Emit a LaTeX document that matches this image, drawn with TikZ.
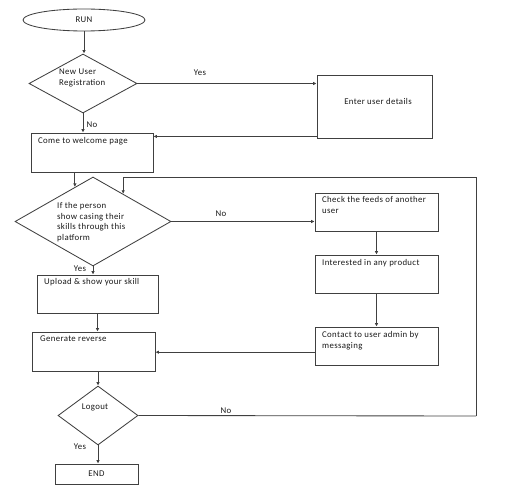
\documentclass[tikz,border=0pt]{standalone}
\usepackage{fontspec}
\setmainfont[LetterSpace=4]{Carlito}
\usetikzlibrary{shapes.geometric,arrows.meta,calc}
\begin{document}
\begin{tikzpicture}[x=1pt,y=-1pt,
  every node/.style={font=\fontsize{8.8}{10.7}\selectfont, text=black!90},
  ln/.style={draw=black!75, line width=0.85pt},
  arr/.style={ln, -{Latex[length=3.5pt,width=3.5pt]}},
  box/.style={ln, rectangle, inner sep=0pt},
  dia/.style={ln, diamond, inner sep=0pt},
  txt/.style={anchor=north west, align=left, inner sep=0pt},
  lbl/.style={inner sep=0pt}]
\useasboundingbox (0,0) rectangle (519,494);
% shapes
\node[ln, ellipse, minimum width=122pt, minimum height=22pt, inner sep=0pt] (run) at (84,20) {RUN};
\node[dia, minimum width=108pt, minimum height=59pt] (d1) at (83,83.5) {};
\node[box, minimum width=115pt, minimum height=63pt] (enter) at (374.5,106.5) {};
\node[lbl] (t0) at (378,101) {Enter user details};
\node[box, minimum width=122pt, minimum height=39pt] (welcome) at (92,152.5) {};
\node[dia, minimum width=156pt, minimum height=89pt] (d2) at (93,221.5) {};
\node[box, minimum width=123pt, minimum height=38pt] (feeds) at (376.5,212) {};
\node[box, minimum width=123pt, minimum height=38pt] (interest) at (376.5,274) {};
\node[box, minimum width=123pt, minimum height=38pt] (contact) at (376.5,346) {};
\node[box, minimum width=121pt, minimum height=38pt] (upload) at (97.5,294) {};
\node[box, minimum width=123pt, minimum height=39pt] (generate) at (93.5,351.5) {};
\node[dia, minimum width=80pt, minimum height=59pt] (d3) at (98,415.5) {};
\node[box, minimum width=83pt, minimum height=20pt] (endn) at (96.5,474) {END};
% texts
\node[txt] (t1) at (59,69) {New User\\Registration};
\node[txt] (t2) at (38,137) {Come to welcome page};
\node[txt] (t3) at (57,202) {If the person\\show casing their\\skills through this\\platform};
\node[txt] (t4) at (322,196) {Check the feeds of another\\user};
\node[txt] (t5) at (322,259) {Interested in any product};
\node[txt] (t6) at (322,331) {Contact to user admin by\\messaging};
\node[txt] (t7) at (44,278) {Upload \& show your skill};
\node[txt] (t8) at (40,336) {Generate reverse};
\node[lbl] (t9) at (95,407) {Logout};
% labels
\node[lbl] (l1) at (200,73) {Yes};
\node[lbl] (l2) at (92,125) {No};
\node[lbl] (l3) at (221,214) {No};
\node[lbl] (l4) at (80,269) {Yes};
\node[lbl] (l5) at (226,411) {No};
\node[lbl] (l6) at (80,447) {Yes};
% coordinates
\coordinate (w1) at ($(d2.north)!0.2308!(d2.west)$);
\coordinate (w0) at (w1 |- welcome.south);
\coordinate (e1) at ($(d2.north)!0.3846!(d2.east)$);
\coordinate (c1) at (476,416);
\coordinate (c2) at (476,177);
\coordinate (c3) at (e1 |- c2);
\coordinate (en1) at ($(enter.south west)+(0,-2)$);
\coordinate (ct1) at ($(contact.north west)!0.66!(contact.south west)$);
% connectors
\draw[arr] (run.south) -- (run.south |- d1.north);
\draw[arr] (d1.east) -- (d1.east -| enter.west);
\draw[arr] (en1) -- (en1 -| welcome.east);
\draw[arr] (d1.south) -- (d1.south |- welcome.north);
\draw[arr] (w0) -- (w1);
\draw[arr] (d2.east) -- (d2.east -| feeds.west);
\draw[arr] (feeds.south) -- (interest.north);
\draw[arr] (interest.south) -- (contact.north);
\draw[arr] (ct1) -- (ct1 -| generate.east);
\draw[arr] (d2.south) -- (d2.south |- upload.north);
\draw[arr] (upload.south) -- (upload.south |- generate.north);
\draw[arr] (d3.north |- generate.south) -- (d3.north);
\draw[arr] (d3.south) -- (d3.south |- endn.north);
\draw[ln] (d3.east) -- (c1);
\draw[arr] (c1) -- (c2) -- (c3) -- (e1);
\end{tikzpicture}
\end{document}
